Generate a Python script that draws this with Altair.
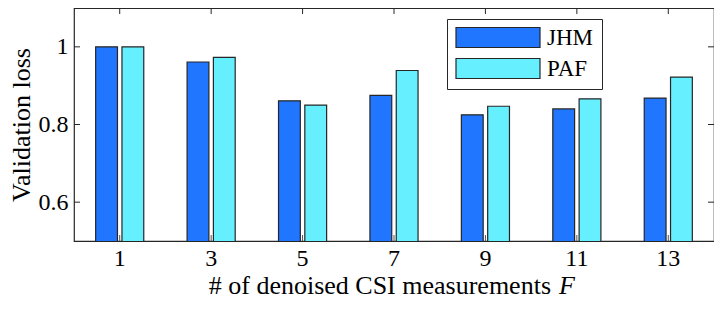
import altair as alt
import pandas as pd

categories = ["1", "3", "5", "7", "9", "11", "13"]
series = ["JHM", "PAF"]
jhm = [1.000, 0.961, 0.861, 0.875, 0.825, 0.840, 0.868]
paf = [1.000, 0.973, 0.850, 0.939, 0.847, 0.866, 0.922]
y_ticks = [0.6, 0.8, 1.0]
colors = ["#2176FF", "#66F0FF"]
x_title = "# of denoised CSI measurements"
x_title_var = "F"
y_title = "Validation loss"

W, H = 640, 233
EDGE = "#262626"
SERIF = "'Liberation Serif', 'Times New Roman', Times, serif"

rows = []
for c, a, b in zip(categories, jhm, paf):
    rows.append({"F": c, "method": "JHM", "loss": a})
    rows.append({"F": c, "method": "PAF", "loss": b})
df = pd.DataFrame(rows)

xscale = alt.Scale(domain=categories, paddingInner=0, paddingOuter=0)
yscale = alt.Scale(domain=[0.5, 1.1], zero=False, nice=False)

bars = alt.Chart(df).mark_bar(stroke=EDGE, strokeWidth=1.2, clip=True).encode(
    x=alt.X("F:N", scale=xscale, sort=categories,
            axis=alt.Axis(title=None, labelAngle=0, ticks=False, domain=False,
                          labelFont=SERIF, labelFontSize=24, labelColor="black",
                          labelPadding=5)),
    xOffset=alt.XOffset("method:N", sort=series,
                        scale=alt.Scale(paddingInner=0.171, paddingOuter=0.8236)),
    y=alt.Y("loss:Q", scale=yscale,
            axis=alt.Axis(values=y_ticks, format="~g", title=y_title, grid=False, ticks=False,
                          domain=False, labelFont=SERIF, labelFontSize=24,
                          labelColor="black", labelPadding=6,
                          titleFont=SERIF, titleFontSize=26, titleFontWeight="normal",
                          titleColor="black", titlePadding=4)),
    color=alt.Color("method:N", sort=series,
                    scale=alt.Scale(domain=series, range=colors),
                    legend=alt.Legend(title=None, orient="none", legendX=373, legendY=11,
                                      symbolType="M-1,-0.238H1V0.238H-1Z",
                                      symbolSize=7056, clipHeight=21, rowPadding=7,
                                      labelOffset=6, padding=8,
                                      strokeColor=EDGE, fillColor="white",
                                      symbolStrokeColor=EDGE, symbolStrokeWidth=1.2,
                                      symbolOpacity=1,
                                      labelFont=SERIF, labelFontSize=23,
                                      labelColor="black")),
)

cat_df = pd.DataFrame({"F": categories})
yt_df = pd.DataFrame({"v": y_ticks})

xt_bottom = alt.Chart(cat_df).mark_rule(color="#555555", strokeWidth=1).encode(
    x=alt.X("F:N", scale=xscale, sort=categories), y=alt.value(H), y2=alt.value(H - 6))
xt_top = alt.Chart(cat_df).mark_rule(color=EDGE, strokeWidth=1).encode(
    x=alt.X("F:N", scale=xscale, sort=categories), y=alt.value(0), y2=alt.value(6))
yt_left = alt.Chart(yt_df).mark_rule(color=EDGE, strokeWidth=1).encode(
    y=alt.Y("v:Q", scale=yscale), x=alt.value(0), x2=alt.value(6))
yt_right = alt.Chart(yt_df).mark_rule(color=EDGE, strokeWidth=1).encode(
    y=alt.Y("v:Q", scale=yscale), x=alt.value(W - 6), x2=alt.value(W))

title_df1 = pd.DataFrame({"t": [x_title]})
title_df2 = pd.DataFrame({"t": [x_title_var]})
t1 = alt.Chart(title_df1).mark_text(font=SERIF, fontSize=26, align="right",
                                    baseline="alphabetic", color="black").encode(
    text="t:N", x=alt.value(477), y=alt.value(H + 53))
t2 = alt.Chart(title_df2).mark_text(font=SERIF, fontSize=26, fontStyle="italic",
                                    align="left", baseline="alphabetic", color="black").encode(
    text="t:N", x=alt.value(485), y=alt.value(H + 53))

chart = alt.layer(bars, xt_bottom, xt_top, yt_left, yt_right, t1, t2).properties(
    width=W, height=H,
    autosize=alt.AutoSizeParams(type="none"),
    padding={"left": 66, "top": 0, "right": 0, "bottom": 68},
).configure_view(stroke=EDGE, strokeWidth=1.2).configure_legend(
    symbolStrokeColor=EDGE
)

chart.save("out.html", embed_options={"renderer": "svg", "actions": False})
